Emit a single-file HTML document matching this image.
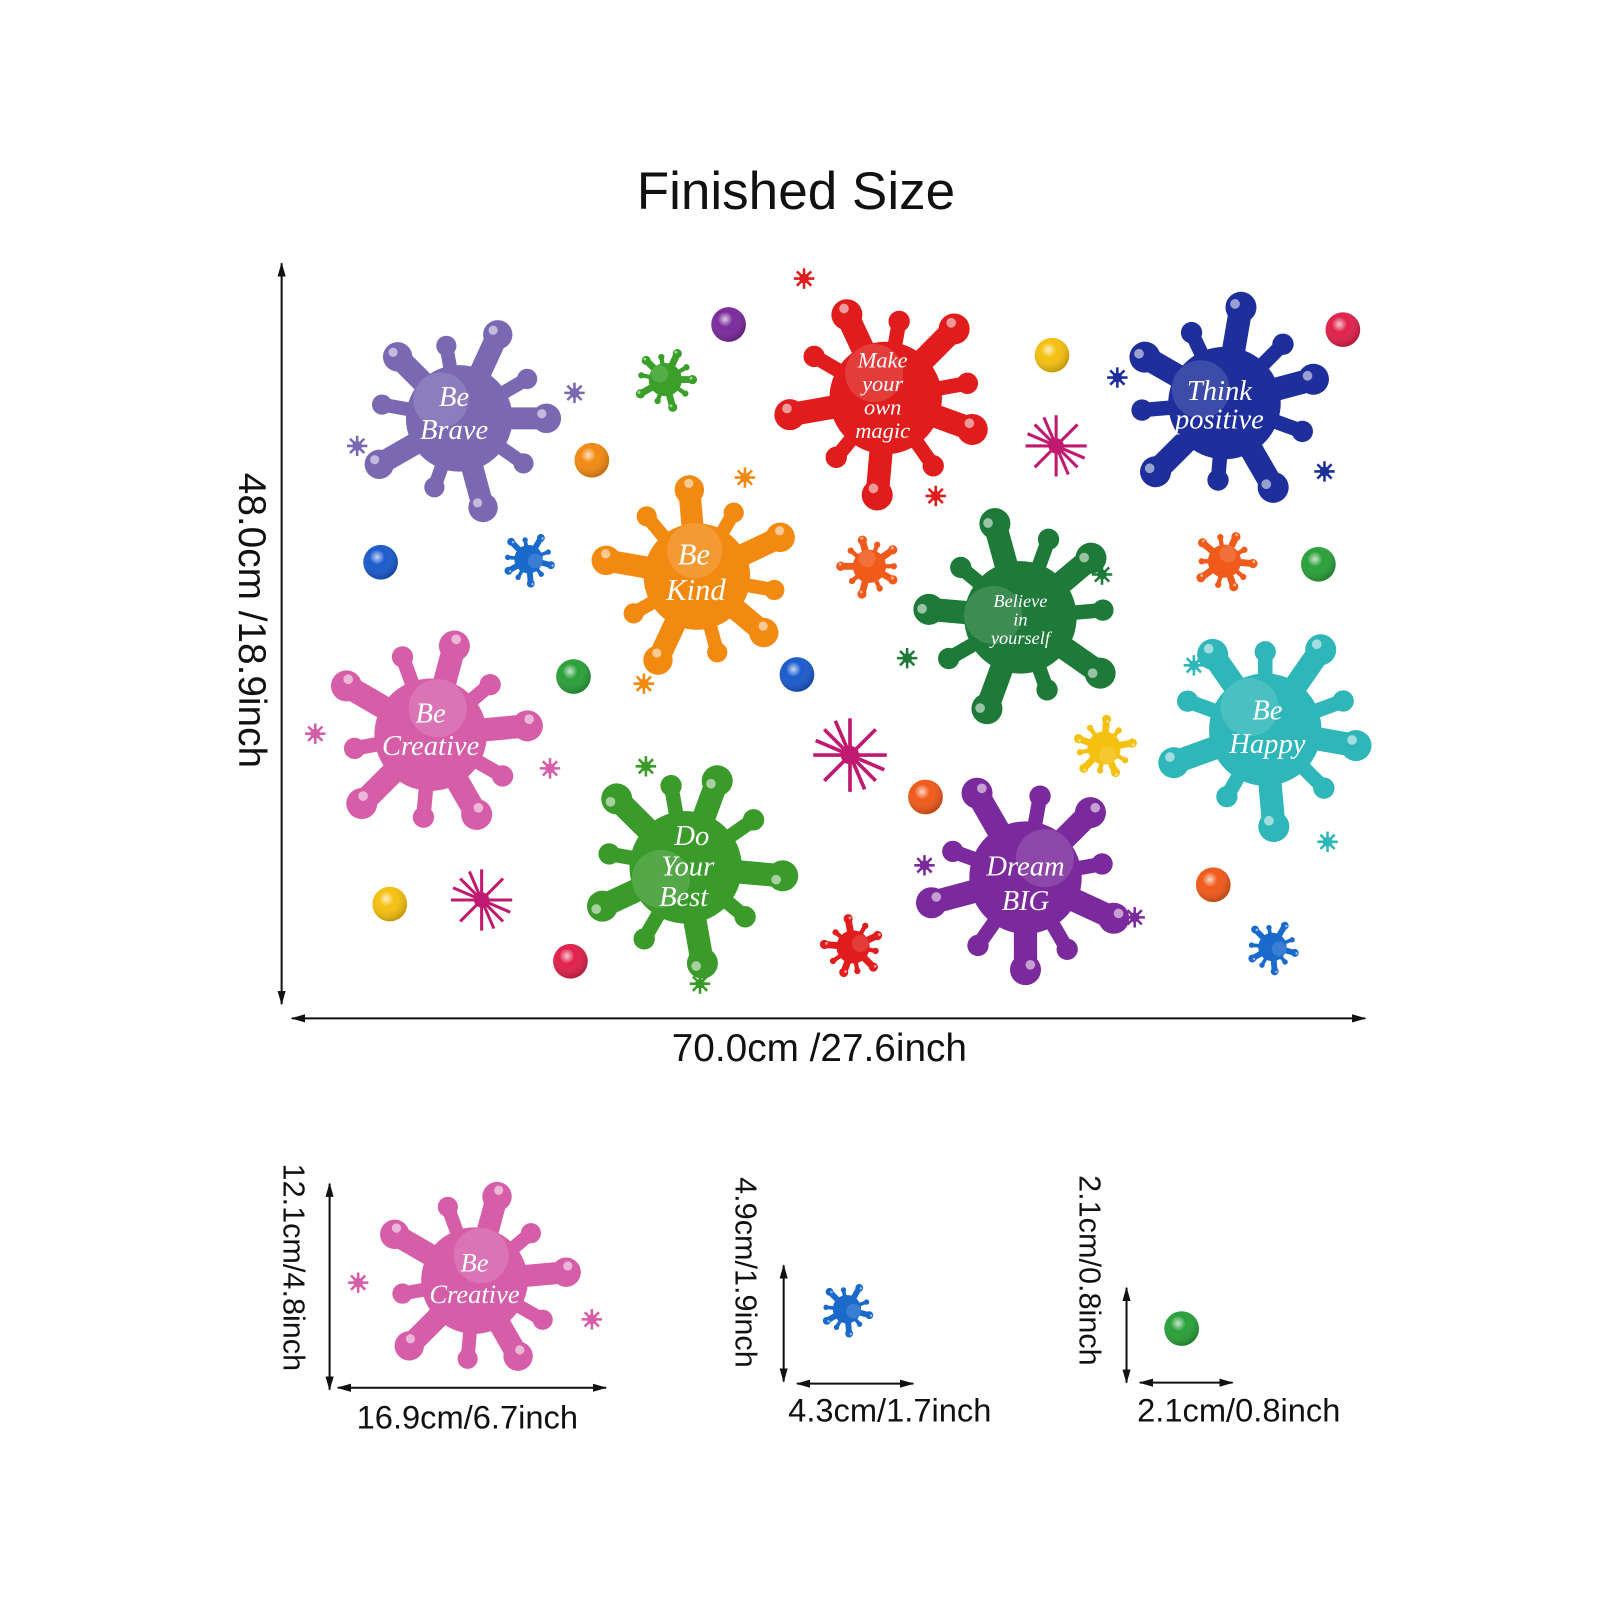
<!DOCTYPE html>
<html><head><meta charset="utf-8"><style>
html,body{margin:0;padding:0;background:#fff;}
svg{display:block}
</style></head><body>
<svg width="1600" height="1600" viewBox="0 0 1600 1600" xmlns="http://www.w3.org/2000/svg">
<defs>
<radialGradient id="ball" cx="40%" cy="35%" r="65%"><stop offset="0" stop-color="#fff" stop-opacity=".75"/><stop offset=".35" stop-color="#fff" stop-opacity="0"/><stop offset="1" stop-color="#000" stop-opacity=".2"/></radialGradient>
<marker id="ah" markerWidth="14" markerHeight="10" refX="13" refY="5" orient="auto-start-reverse" markerUnits="userSpaceOnUse"><path d="M0,1 L14,5 L0,9 z" fill="#111"/></marker>
<g id="sp">
<circle r="58" fill="currentColor"/>
<path d="M0 0L95 0M0 0L26 97M0 0L-87 50M0 0L-67 -67M0 0L42 -91" stroke="currentColor" stroke-width="24" stroke-linecap="round" fill="none"/>
<path d="M0 0L70 49M0 0L-27 75M0 0L-84 -15M0 0L-14 -79M0 0L74 -43" stroke="currentColor" stroke-width="15" stroke-linecap="round" fill="none"/>
<g fill="currentColor"><circle cx="95" cy="0" r="16"/><circle cx="26" cy="97" r="16"/><circle cx="-87" cy="50" r="16"/><circle cx="-67" cy="-67" r="16"/><circle cx="42" cy="-91" r="16"/>
<circle cx="70" cy="49" r="11"/><circle cx="-27" cy="75" r="11"/><circle cx="-84" cy="-15" r="11"/><circle cx="-14" cy="-79" r="11"/><circle cx="74" cy="-43" r="11"/></g>
<g fill="#fff" opacity=".55"><circle cx="90" cy="-5" r="5"/><circle cx="20" cy="92" r="5"/><circle cx="-92" cy="45" r="5"/><circle cx="-72" cy="-72" r="5"/><circle cx="37" cy="-96" r="5"/><circle cx="-20" cy="-20" r="30" opacity=".25"/></g>
</g>
<g id="st" stroke="currentColor" stroke-width="2.5" fill="currentColor">
<path d="M-10 0H10M0 -10V10M-7 -7L7 7M-7 7L7 -7"/><circle r="3.5"/>
</g>
<g id="bs" stroke="currentColor" stroke-width="3" fill="currentColor">
<path d="M-30 0H30M0 -30V30M-21 -21L21 21M-21 21L21 -21M-12 -28L12 28M-28 -12L28 12"/><circle r="6"/>
</g>
</defs>
<g transform="scale(1.0204)">
<text x="780" y="205" font-family="Liberation Sans, sans-serif" font-size="52" text-anchor="middle" fill="#111">Finished Size</text>

<use href="#sp" transform="translate(450,410) scale(0.9)" style="color:#7a69b2"/>
<use href="#sp" transform="translate(868,390) rotate(20) scale(0.95)" style="color:#e01c1c"/>
<use href="#sp" transform="translate(1200,395) rotate(-15) scale(0.95)" style="color:#1e2f9c"/>
<use href="#sp" transform="translate(683,565) rotate(40) scale(0.9)" style="color:#f28a12"/>
<use href="#sp" transform="translate(1000,605) rotate(-40) scale(0.95)" style="color:#1e7a38"/>
<use href="#sp" transform="translate(422,720) rotate(60) scale(0.95)" style="color:#d65ea8"/>
<use href="#sp" transform="translate(1240,715) rotate(10) scale(0.95)" style="color:#2fb6b8"/>
<use href="#sp" transform="translate(672,850) rotate(-70) scale(0.95)" style="color:#3a9a2a"/>
<use href="#sp" transform="translate(1005,860) rotate(90) scale(0.95)" style="color:#7a2a9c"/>
<use href="#sp" transform="translate(465,1255) rotate(60) scale(0.9)" style="color:#d65ea8"/>

<use href="#sp" transform="translate(652,372) scale(0.28)" style="color:#3aa02a"/>
<use href="#sp" transform="translate(852,555) rotate(30) scale(0.28)" style="color:#f05a1a"/>
<use href="#sp" transform="translate(1200,550) rotate(70) scale(0.28)" style="color:#f05a1a"/>
<use href="#sp" transform="translate(836,928) rotate(110) scale(0.28)" style="color:#e01c1c"/>
<use href="#sp" transform="translate(1082,733) rotate(200) scale(0.28)" style="color:#f5c010"/>
<use href="#sp" transform="translate(518,548) rotate(150) scale(0.24)" style="color:#1a6acc"/>
<use href="#sp" transform="translate(1247,928) rotate(150) scale(0.24)" style="color:#1a6acc"/>
<use href="#sp" transform="translate(830,1283) rotate(150) scale(0.24)" style="color:#1a6acc"/>

<use href="#bs" transform="translate(1035,437)" style="color:#c01a70"/>
<use href="#bs" transform="translate(833,740) scale(1.2)" style="color:#c01a70"/>
<use href="#bs" transform="translate(472,882)" style="color:#c01a70"/>

<use href="#st" transform="translate(788,273)" style="color:#e01c1c"/>
<use href="#st" transform="translate(563,385)" style="color:#7a69b2"/>
<use href="#st" transform="translate(350,437)" style="color:#7a69b2"/>
<use href="#st" transform="translate(1095,370)" style="color:#1e2f9c"/>
<use href="#st" transform="translate(1298,462)" style="color:#1e2f9c"/>
<use href="#st" transform="translate(730,468)" style="color:#f28a12"/>
<use href="#st" transform="translate(917,486)" style="color:#e01c1c"/>
<use href="#st" transform="translate(631,670)" style="color:#f28a12"/>
<use href="#st" transform="translate(1080,563)" style="color:#1e7a38"/>
<use href="#st" transform="translate(889,645)" style="color:#1e7a38"/>
<use href="#st" transform="translate(1170,652)" style="color:#2fb6b8"/>
<use href="#st" transform="translate(1301,825)" style="color:#2fb6b8"/>
<use href="#st" transform="translate(309,719)" style="color:#d65ea8"/>
<use href="#st" transform="translate(539,753)" style="color:#d65ea8"/>
<use href="#st" transform="translate(633,751)" style="color:#3a9a2a"/>
<use href="#st" transform="translate(686,964)" style="color:#3a9a2a"/>
<use href="#st" transform="translate(906,848)" style="color:#7a2a9c"/>
<use href="#st" transform="translate(1112,899)" style="color:#7a2a9c"/>
<use href="#st" transform="translate(351,1257)" style="color:#d65ea8"/>
<use href="#st" transform="translate(580,1293)" style="color:#d65ea8"/>

<g>
<circle cx="714" cy="318" r="17" fill="#7a2a9c"/><circle cx="714" cy="318" r="17" fill="url(#ball)"/>
<circle cx="1031" cy="348" r="17" fill="#f5c010"/><circle cx="1031" cy="348" r="17" fill="url(#ball)"/>
<circle cx="1316" cy="323" r="17" fill="#e0204a"/><circle cx="1316" cy="323" r="17" fill="url(#ball)"/>
<circle cx="580" cy="451" r="17" fill="#f28a12"/><circle cx="580" cy="451" r="17" fill="url(#ball)"/>
<circle cx="373" cy="551" r="17" fill="#1a5acc"/><circle cx="373" cy="551" r="17" fill="url(#ball)"/>
<circle cx="1292" cy="553" r="17" fill="#2aa03a"/><circle cx="1292" cy="553" r="17" fill="url(#ball)"/>
<circle cx="562" cy="663" r="17" fill="#2aa03a"/><circle cx="562" cy="663" r="17" fill="url(#ball)"/>
<circle cx="781" cy="661" r="17" fill="#1a5acc"/><circle cx="781" cy="661" r="17" fill="url(#ball)"/>
<circle cx="907" cy="781" r="17" fill="#f05a1a"/><circle cx="907" cy="781" r="17" fill="url(#ball)"/>
<circle cx="382" cy="886" r="17" fill="#f5c010"/><circle cx="382" cy="886" r="17" fill="url(#ball)"/>
<circle cx="1189" cy="867" r="17" fill="#f05a1a"/><circle cx="1189" cy="867" r="17" fill="url(#ball)"/>
<circle cx="559" cy="942" r="17" fill="#e0204a"/><circle cx="559" cy="942" r="17" fill="url(#ball)"/>
<circle cx="1158" cy="1302" r="17" fill="#2aa03a"/><circle cx="1158" cy="1302" r="17" fill="url(#ball)"/>
</g>

<g stroke="#111" stroke-width="2" fill="none">
<line x1="276" y1="258" x2="276" y2="984" marker-start="url(#ah)" marker-end="url(#ah)"/>
<line x1="286" y1="998" x2="1338" y2="998" marker-start="url(#ah)" marker-end="url(#ah)"/>
<line x1="323" y1="1160" x2="323" y2="1362" marker-start="url(#ah)" marker-end="url(#ah)"/>
<line x1="331" y1="1360" x2="594" y2="1360" marker-start="url(#ah)" marker-end="url(#ah)"/>
<line x1="768" y1="1240" x2="768" y2="1354" marker-start="url(#ah)" marker-end="url(#ah)"/>
<line x1="781" y1="1356" x2="895" y2="1356" marker-start="url(#ah)" marker-end="url(#ah)"/>
<line x1="1104" y1="1262" x2="1104" y2="1355" marker-start="url(#ah)" marker-end="url(#ah)"/>
<line x1="1117" y1="1355" x2="1208" y2="1355" marker-start="url(#ah)" marker-end="url(#ah)"/>
</g>
<g font-family="Liberation Sans, sans-serif" fill="#111">
<text x="803" y="1040" font-size="38" text-anchor="middle">70.0cm /27.6inch</text>
<text transform="translate(234,608) rotate(90)" font-size="38" text-anchor="middle">48.0cm /18.9inch</text>
<text x="458" y="1400" font-size="32" text-anchor="middle">16.9cm/6.7inch</text>
<text x="872" y="1393" font-size="32" text-anchor="middle">4.3cm/1.7inch</text>
<text x="1214" y="1393" font-size="32" text-anchor="middle">2.1cm/0.8inch</text>
<text transform="translate(278,1242) rotate(90)" font-size="30" text-anchor="middle">12.1cm/4.8inch</text>
<text transform="translate(721,1247) rotate(90)" font-size="30" text-anchor="middle">4.9cm/1.9inch</text>
<text transform="translate(1058,1245) rotate(90)" font-size="30" text-anchor="middle">2.1cm/0.8inch</text>
</g>
<g font-family="Liberation Serif, serif" font-style="italic" fill="#fff" text-anchor="middle">
<text x="445" y="398" font-size="28">Be</text><text x="445" y="430" font-size="28">Brave</text>
<text x="865" y="360" font-size="22">Make</text><text x="865" y="383" font-size="22">your</text><text x="865" y="406" font-size="22">own</text><text x="865" y="429" font-size="22">magic</text>
<text x="1195" y="392" font-size="28">Think</text><text x="1195" y="420" font-size="28">positive</text>
<text x="680" y="553" font-size="30">Be</text><text x="682" y="588" font-size="30">Kind</text>
<text x="1000" y="595" font-size="18">Believe</text><text x="1000" y="613" font-size="18">in</text><text x="1000" y="631" font-size="18">yourself</text>
<text x="422" y="708" font-size="28">Be</text><text x="422" y="740" font-size="28">Creative</text>
<text x="1242" y="705" font-size="28">Be</text><text x="1242" y="738" font-size="28">Happy</text>
<text x="678" y="828" font-size="28">Do</text><text x="674" y="858" font-size="28">Your</text><text x="670" y="888" font-size="28">Best</text>
<text x="1005" y="858" font-size="28">Dream</text><text x="1005" y="892" font-size="28">BIG</text>
<text x="465" y="1246" font-size="26">Be</text><text x="465" y="1277" font-size="26">Creative</text>
</g>
</g>
</svg>
</body></html>
